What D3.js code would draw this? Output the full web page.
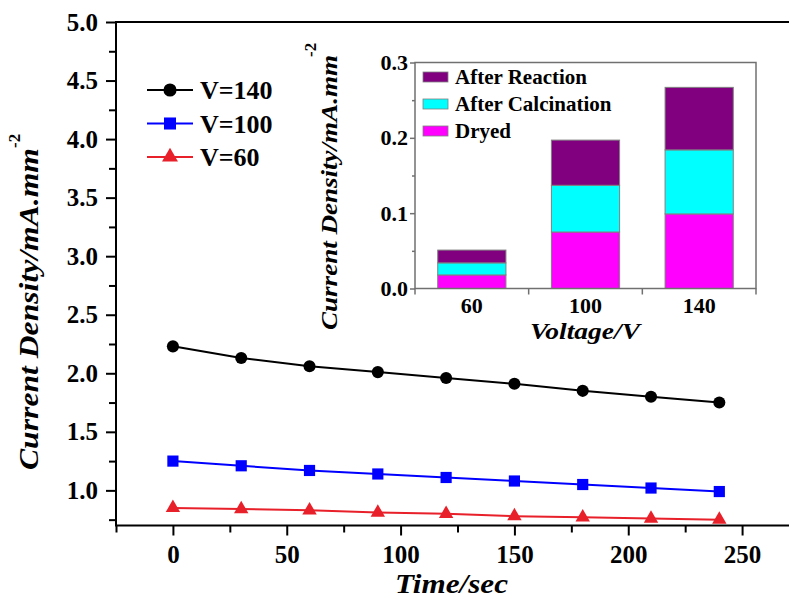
<!DOCTYPE html>
<html lang="en">
<head>
<meta charset="UTF-8">
<title>Current Density vs Time</title>
<script src="https://d3js.org/d3.v7.min.js"></script>
<style>
    body, html {
        margin: 0;
        padding: 0;
        background: #ffffff;
        overflow: hidden;
    }
    text {
        font-family: "Liberation Serif", "Times New Roman", serif;
        font-weight: bold;
        fill: #000;
    }
</style>
</head>
<body>
<div id="chart"></div>
<script>
// main plot data
const timeSec = [0, 30, 60, 90, 120, 150, 180, 210, 240];
const v140 = [2.23, 2.13, 2.06, 2.01, 1.96, 1.91, 1.85, 1.80, 1.75];
const v100 = [1.25, 1.21, 1.17, 1.14, 1.11, 1.08, 1.05, 1.02, 0.99];
const v60 = [0.85, 0.84, 0.83, 0.81, 0.80, 0.78, 0.77, 0.76, 0.75];
const seriesNames = ["V=140", "V=100", "V=60"];

// inset data (stacked bars)
const voltages = ["60", "100", "140"];
const dryed = [0.018, 0.075, 0.099];
const afterCalcination = [0.016, 0.062, 0.085];
const afterReaction = [0.017, 0.060, 0.083];
const stackNames = ["Dryed", "After Calcination", "After Reaction"];

// ticks
const mainYTicks = [1.0, 1.5, 2.0, 2.5, 3.0, 3.5, 4.0, 4.5, 5.0];
const mainYMinor = [0.75, 1.25, 1.75, 2.25, 2.75, 3.25, 3.75, 4.25, 4.75];
const mainXTicks = [0, 50, 100, 150, 200, 250];
const mainXMinor = [-25, 25, 75, 125, 175, 225, 275];
const insetYTicks = [0.0, 0.1, 0.2, 0.3];
const insetYMinor = [0.05, 0.15, 0.25];

(function() {
    const width = 789, height = 604;
    const svg = d3.select("#chart").append("svg")
        .attr("width", width)
        .attr("height", height);

    // ---------- main plot ----------
    const x = d3.scaleLinear().domain([-25, 275]).range([116, 799]);
    const y = d3.scaleLinear().domain([0.7, 5.0]).range([525.5, 22]);

    const series = [
        {name: seriesNames[0], values: v140, color: "#000000", shape: d3.symbolCircle, size: 115},
        {name: seriesNames[1], values: v100, color: "#0000ff", shape: d3.symbolSquare, size: 125},
        {name: seriesNames[2], values: v60, color: "#e8202a", shape: d3.symbolTriangle, size: 90}
    ];

    const line = d3.line()
        .x((d, i) => x(timeSec[i]))
        .y(d => y(d));

    series.forEach(s => {
        svg.append("path")
            .attr("d", line(s.values))
            .attr("fill", "none")
            .attr("stroke", s.color)
            .attr("stroke-width", 2);
        svg.append("g").selectAll("path")
            .data(s.values)
            .enter().append("path")
            .attr("transform", (d, i) => `translate(${x(timeSec[i])},${y(d)})`)
            .attr("d", d3.symbol().type(s.shape).size(s.size))
            .attr("fill", s.color);
    });

    // y axis
    svg.append("g")
        .attr("class", "main-axis")
        .attr("transform", `translate(${x(-25)},0)`)
        .call(d3.axisLeft(y).tickValues(mainYTicks).tickSize(10).tickPadding(8).tickFormat(d3.format(".1f")));
    svg.append("g")
        .attr("class", "main-axis")
        .attr("transform", `translate(${x(-25)},0)`)
        .call(d3.axisLeft(y).tickValues(mainYMinor).tickSize(7).tickFormat(""));

    // x axis
    svg.append("g")
        .attr("class", "main-axis")
        .attr("transform", `translate(0,${y(0.7)})`)
        .call(d3.axisBottom(x).tickValues(mainXTicks).tickSize(10).tickPadding(10).tickFormat(d3.format("d")));
    svg.append("g")
        .attr("class", "main-axis")
        .attr("transform", `translate(0,${y(0.7)})`)
        .call(d3.axisBottom(x).tickValues(mainXMinor).tickSize(7).tickFormat(""));

    svg.selectAll(".main-axis .domain").remove();
    svg.selectAll(".main-axis .tick line").attr("stroke", "#000").attr("stroke-width", 2);
    svg.selectAll(".main-axis .tick text")
        .attr("fill", "#000")
        .style("font-size", "25px")
        .style("font-family", "'Liberation Serif', serif")
        .style("font-weight", "bold");

    // frame
    svg.append("rect")
        .attr("x", x(-25)).attr("y", y(5.0))
        .attr("width", x(275) - x(-25))
        .attr("height", y(0.7) - y(5.0))
        .attr("fill", "none")
        .attr("stroke", "#000")
        .attr("stroke-width", 2);

    // axis titles
    svg.append("text")
        .attr("x", 395).attr("y", 593)
        .attr("textLength", 113)
        .attr("lengthAdjust", "spacingAndGlyphs")
        .style("font-size", "27px")
        .style("font-style", "italic")
        .text("Time/sec");

    svg.append("text")
        .attr("transform", "translate(38,470) rotate(-90)")
        .attr("textLength", 322)
        .attr("lengthAdjust", "spacingAndGlyphs")
        .style("font-size", "27px")
        .style("font-style", "italic")
        .text("Current Density/mA.mm");
    svg.append("text")
        .attr("transform", "translate(20,148) rotate(-90)")
        .style("font-size", "17px")
        .text("-2");

    // legend
    series.forEach((s, i) => {
        const ly = 90 + i * 33.5;
        svg.append("line")
            .attr("x1", 147).attr("x2", 193)
            .attr("y1", ly).attr("y2", ly)
            .attr("stroke", s.color).attr("stroke-width", 2);
        svg.append("path")
            .attr("transform", `translate(170,${ly})`)
            .attr("d", d3.symbol().type(s.shape).size(s.size + 20))
            .attr("fill", s.color);
        svg.append("text")
            .attr("x", 200).attr("y", ly)
            .attr("dy", "0.35em")
            .style("font-size", "26px")
            .text(s.name);
    });

    // ---------- inset ----------
    const ix = d3.scaleBand().domain(voltages).range([415, 756])
        .paddingInner(0.4).paddingOuter(0.2);
    const iy = d3.scaleLinear().domain([0, 0.3]).range([288.5, 62.5]);
    const stackColors = ["#ff00ff", "#00ffff", "#800080"];

    const table = voltages.map((v, i) => ({
        voltage: v,
        "Dryed": dryed[i],
        "After Calcination": afterCalcination[i],
        "After Reaction": afterReaction[i]
    }));
    const stacked = d3.stack().keys(stackNames)(table);

    const inset = svg.append("g");
    inset.selectAll("g.layer")
        .data(stacked)
        .enter().append("g")
        .attr("class", "layer")
        .attr("fill", (d, i) => stackColors[i])
        .selectAll("rect")
        .data(d => d)
        .enter().append("rect")
        .attr("x", d => ix(d.data.voltage))
        .attr("y", d => iy(d[1]))
        .attr("width", ix.bandwidth())
        .attr("height", d => iy(d[0]) - iy(d[1]))
        .attr("stroke", "#808080")
        .attr("stroke-width", 1);

    inset.append("rect")
        .attr("x", 415).attr("y", iy(0.3))
        .attr("width", 756 - 415)
        .attr("height", iy(0) - iy(0.3))
        .attr("fill", "none")
        .attr("stroke", "#707070")
        .attr("stroke-width", 1.5);

    inset.append("g")
        .attr("transform", "translate(415,0)")
        .call(d3.axisLeft(iy).tickValues(insetYTicks).tickSize(5).tickPadding(2).tickFormat(d3.format(".1f")));
    inset.append("g")
        .attr("transform", "translate(415,0)")
        .call(d3.axisLeft(iy).tickValues(insetYMinor).tickSize(3).tickFormat(""));

    inset.append("g")
        .attr("transform", `translate(0,${iy(0)})`)
        .call(d3.axisBottom(ix).tickSize(0).tickPadding(9));
    // category separators on the inset x axis
    const sep = [415, ix("100") - ix.step() * 0.2, ix("140") - ix.step() * 0.2, 756];
    inset.selectAll("line.sep")
        .data(sep)
        .enter().append("line")
        .attr("class", "sep")
        .attr("x1", d => d).attr("x2", d => d)
        .attr("y1", iy(0)).attr("y2", iy(0) + 6)
        .attr("stroke", "#707070").attr("stroke-width", 1.5);

    inset.selectAll(".domain").remove();
    inset.selectAll(".tick line").attr("stroke", "#707070").attr("stroke-width", 1.5);
    inset.selectAll(".tick text")
        .attr("fill", "#000")
        .style("font-size", "22px")
        .style("font-family", "'Liberation Serif', serif")
        .style("font-weight", "bold");

    inset.append("text")
        .attr("x", 530).attr("y", 339)
        .attr("textLength", 110)
        .attr("lengthAdjust", "spacingAndGlyphs")
        .style("font-size", "23px")
        .style("font-style", "italic")
        .text("Voltage/V");

    inset.append("text")
        .attr("transform", "translate(337,330) rotate(-90)")
        .attr("textLength", 275)
        .attr("lengthAdjust", "spacingAndGlyphs")
        .style("font-size", "23px")
        .style("font-style", "italic")
        .text("Current Density/mA.mm");
    inset.append("text")
        .attr("transform", "translate(316,57) rotate(-90)")
        .style("font-size", "17px")
        .text("-2");

    // inset legend (top to bottom reversed from stack order)
    const legendOrder = [2, 1, 0];
    legendOrder.forEach((k, i) => {
        const ly = 77 + i * 27;
        inset.append("rect")
            .attr("x", 423).attr("y", ly - 5)
            .attr("width", 25).attr("height", 10)
            .attr("fill", stackColors[k])
            .attr("stroke", "#808080").attr("stroke-width", 0.8);
        inset.append("text")
            .attr("x", 455).attr("y", ly)
            .attr("dy", "0.35em")
            .style("font-size", "21px")
            .text(stackNames[k]);
    });
})();
</script>
</body>
</html>
